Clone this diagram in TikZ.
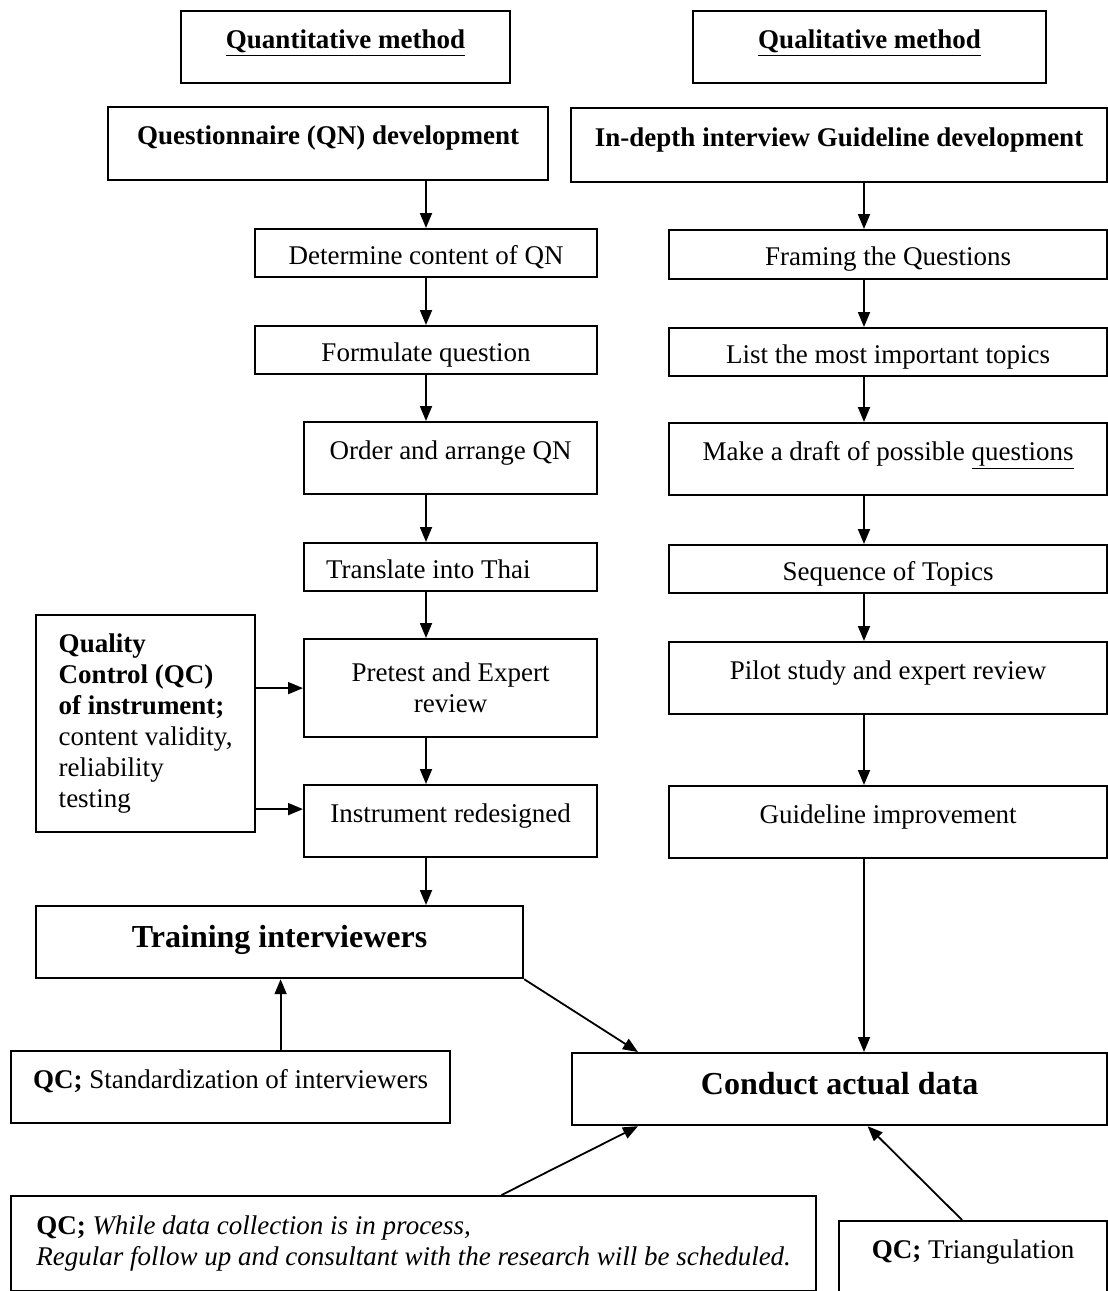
\documentclass[tikz,border=0pt]{standalone}
\usepackage{fontspec}
\setmainfont{Liberation Serif}
\usepackage{tikz}
\usetikzlibrary{arrows.meta,positioning}
\newcommand{\txtsz}{\fontsize{13.5}{15.5}\selectfont}
\newcommand{\bigsz}{\fontsize{16}{19}\selectfont\bfseries}
\tikzstyle{box}=[rectangle, draw=black, line width=1.1pt, inner sep=0pt,
  align=center, anchor=north west, font=\txtsz]
\tikzstyle{short}=[box, minimum height=24pt, text height=17.5pt, text depth=6.5pt]
\tikzstyle{tall}=[box, minimum height=36pt, text height=18.5pt, text depth=17.5pt]
\tikzstyle{arrow}=[-{Triangle[length=7.5pt,width=6pt]}, line width=0.9pt]

\begin{document}
\begin{tikzpicture}[x=0.5pt,y=-0.5pt]
\useasboundingbox (0,0) rectangle (1108,1291);
\coordinate (colL) at (426,0);
\coordinate (colR) at (864,0);
% headers
\node (quant) [tall, minimum width=164.5pt] at (180,10) {\textbf{\underline{Quantitative method}}};
\node (qual) [tall, minimum width=176.5pt] at (692,10) {\textbf{\underline{Qualitative method}}};
\node (qndev) [tall, minimum width=220pt, minimum height=36.5pt] at (107,106) {\textbf{Questionnaire (QN) development}};
\node (iddev) [tall, minimum width=268pt, minimum height=37pt] at (570,107) {\textbf{In-depth interview Guideline development}};
% quantitative column
\node (det) [short, minimum width=171pt] at (254,228) {Determine content of QN};
\node (form) [short, minimum width=171pt] at (254,325) {Formulate question};
\node (order) [tall, minimum width=146.5pt] at (303,421) {Order and arrange QN};
\node (trans) [short, minimum width=146.5pt, text width=124.5pt, inner xsep=11pt, align=flush left] at (303,542) {Translate into Thai};
\node (pretest) [box, minimum width=146.5pt, minimum height=49pt] at (303,638) {Pretest and Expert\\review};
\node (redes) [tall, minimum width=146.5pt] at (303,784) {Instrument redesigned};
\node (qcinst) [box, minimum width=109.5pt, minimum height=108.5pt, align=left] at (35,614)
  {\textbf{Quality}\\\textbf{Control (QC)}\\\textbf{of instrument;}\\content validity,\\reliability\\testing};
% qualitative column
\node (frame) [short, minimum width=219pt, minimum height=24.5pt] at (668,229) {Framing the Questions};
\node (topics) [short, minimum width=219pt] at (668,327) {List the most important topics};
\node (draft) [tall, minimum width=219pt] at (668,422) {Make a draft of possible \underline{questions}};
\node (seq) [short, minimum width=219pt] at (668,544) {Sequence of Topics};
\node (pilot) [tall, minimum width=219pt] at (668,641) {Pilot study and expert review};
\node (guide) [tall, minimum width=219pt] at (668,785) {Guideline improvement};
% data collection
\node (train) [tall, minimum width=243.5pt, font=\bigsz, text height=20.5pt, text depth=15.5pt] at (35,905) {Training interviewers};
\node (stdz) [tall, minimum width=219.5pt] at (10,1050) {\textbf{QC;} Standardization of interviewers};
\node (conduct) [tall, minimum width=267.5pt, font=\bigsz, text height=20.5pt, text depth=15.5pt] at (571,1052) {Conduct actual data};
\node (follow) [box, minimum width=402.5pt, minimum height=47.5pt, align=left] at (10,1195)
  {\textbf{QC;} \textit{While data collection is in process,}\\\textit{Regular follow up and consultant with the research will be scheduled.}};
\node (triang) [tall, minimum width=134pt, minimum height=35pt] at (838,1220) {\textbf{QC;} Triangulation};
% arrows
\draw[arrow] (qndev.south -| colL) -- (det.north -| colL);
\draw[arrow] (det.south -| colL) -- (form.north -| colL);
\draw[arrow] (form.south -| colL) -- (order.north -| colL);
\draw[arrow] (order.south -| colL) -- (trans.north -| colL);
\draw[arrow] (trans.south -| colL) -- (pretest.north -| colL);
\draw[arrow] (pretest.south -| colL) -- (redes.north -| colL);
\draw[arrow] (redes.south -| colL) -- (train.north -| colL);
\draw[arrow] (iddev.south -| colR) -- (frame.north -| colR);
\draw[arrow] (frame.south -| colR) -- (topics.north -| colR);
\draw[arrow] (topics.south -| colR) -- (draft.north -| colR);
\draw[arrow] (draft.south -| colR) -- (seq.north -| colR);
\draw[arrow] (seq.south -| colR) -- (pilot.north -| colR);
\draw[arrow] (pilot.south -| colR) -- (guide.north -| colR);
\draw[arrow] (guide.south -| colR) -- (conduct.north -| colR);
\draw[arrow] (qcinst.east |- pretest.west) -- (pretest.west);
\draw[arrow] ([yshift=6pt]qcinst.east |- redes.west) -- ([yshift=6pt]redes.west);
\draw[arrow] ([xshift=25pt]stdz.north) -- ([xshift=25pt]stdz.north |- train.south);
\draw[arrow] (train.south east) -- ([xshift=33.5pt]conduct.north west);
\draw[arrow] ([xshift=44pt]follow.north) -- ([xshift=33.5pt]conduct.south west);
\draw[arrow] ([xshift=-5.5pt]triang.north) -- ([xshift=14pt]conduct.south);
\end{tikzpicture}
\end{document}
